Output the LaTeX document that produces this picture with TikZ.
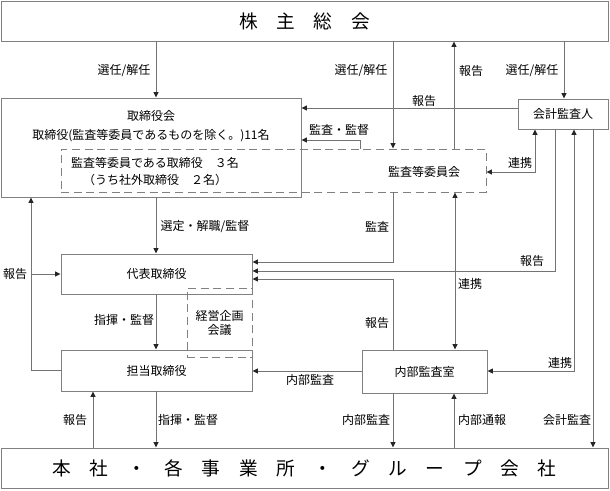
\documentclass[tikz,border=0pt]{standalone}
\usepackage{fontspec}
\setmainfont{Noto Sans CJK JP}
\usetikzlibrary{arrows.meta}
\newcommand{\bigtxt}{\fontsize{14}{16}\selectfont}
\tikzset{
  box/.style={draw=black!50, line width=0.7pt, inner sep=0pt},
  dbox/.style={box, dash pattern=on 6pt off 3.5pt},
  tip/.tip={Triangle[length=4pt,width=3.6pt,color=black!85]},
  link/.style={draw=black!55, line width=0.7pt, -tip},
  both/.style={link, tip-tip},
}
\begin{document}
\begin{tikzpicture}[x=0.75pt, y=-0.75pt, font=\fontsize{9}{11}\selectfont]
      \useasboundingbox (0,0) rectangle (610,490);
      % Draw the boxes
      \node[box, minimum width=455.25pt, minimum height=30pt] (gm) at (304.5,21) {\bigtxt 株\quad 主\quad 総\quad 会};
      \node[box, minimum width=455.25pt, minimum height=30pt] (hq) at (304.5,468) {\bigtxt 本\quad 社\quad ・\quad 各\quad 事\quad 業\quad 所\quad ・\quad グ\quad ル\quad ー\quad プ\quad 会\quad 社};
      \node[box, minimum width=225pt, minimum height=74.25pt] (board) at (151,147.5) {};
      \node[dbox, minimum width=318.75pt, minimum height=32.25pt] (ac) at (273.5,170.5) {};
      \node[box, minimum width=67.5pt, minimum height=22.5pt] (auditor) at (563,114) {会計監査人};
      \node[box, minimum width=143.25pt, minimum height=30pt] (rep) at (156.5,274) {代表取締役};
      \node[box, minimum width=143.25pt, minimum height=30.75pt] (exec) at (156.5,370.5) {担当取締役};
      \node[dbox, minimum width=48.75pt, minimum height=51.75pt] (mtg) at (219.5,322.5) {};
      \node[box, minimum width=93.75pt, minimum height=32.25pt] (ia) at (424.5,371.5) {内部監査室};
      % Draw the box texts
      \node[align=center, font=\fontsize{9}{14.25}\selectfont] (boardtxt) at (151,126.5) {取締役会\\取締役(監査等委員であるものを除く。)11名};
      \node[align=center, font=\fontsize{9}{12.75}\selectfont] (actxt) at (155,171.5) {監査等委員である取締役　３名\\（うち社外取締役　２名）};
      \node (acname) at (424,172) {監査等委員会};
      \node[align=center, font=\fontsize{9}{10.5}\selectfont] (mtgtxt) at (219.5,323) {経営企画\\会議};
      % Draw the connectors
      \draw[link] (156,0 |- gm.south) -- (156,0 |- board.north);
      \draw[link] (393,0 |- gm.south) -- (393,0 |- ac.north);
      \draw[link] (454,0 |- ac.north) -- (454,0 |- gm.south);
      \draw[link] (564,0 |- gm.south) -- (564,0 |- auditor.north);
      \draw[link] (auditor.west |- 0,108) -- (board.east |- 0,108);
      \draw[link] (360,0 |- ac.north) |- (board.east |- 0,140);
      \draw[both] (535,0 |- auditor.south) |- (ac.east |- 0,172);
      \draw[link] (156,0 |- board.south) -- (156,0 |- rep.north);
      \draw[link] (393,0 |- ac.south) |- (rep.east |- 0,262);
      \draw[link] (555,0 |- auditor.south) |- (rep.east |- 0,271);
      \draw[link] (393,0 |- ia.north) |- (rep.east |- 0,279);
      \draw[both] (455,0 |- ac.south) -- (455,0 |- ia.north);
      \draw[both] (574,0 |- auditor.south) |- (ia.east |- 0,371);
      \draw[link] (593,0 |- auditor.south) -- (593,0 |- hq.north);
      \draw[link] (exec.west |- 0,370) -| (31,0 |- board.south);
      \draw[link] (31,274) -- (rep.west |- 0,274);
      \draw[link] (156,0 |- rep.south) -- (156,0 |- exec.north);
      \draw[link] (ia.west |- 0,371) -- (exec.east |- 0,371);
      \draw[link] (156,0 |- exec.south) -- (156,0 |- hq.north);
      \draw[link] (93,0 |- hq.north) -- (93,0 |- exec.south);
      \draw[link] (393,0 |- ia.south) -- (393,0 |- hq.north);
      \draw[link] (454,0 |- hq.north) -- (454,0 |- ia.south);
      % Draw the connector labels
      \node (l1) at (124,71) {選任/解任};
      \node (l2) at (361,71) {選任/解任};
      \node (l3) at (471,71) {報告};
      \node (l4) at (532,71) {選任/解任};
      \node (l5) at (424,101) {報告};
      \node (l6) at (339,130) {監査・監督};
      \node (l7) at (520,163) {連携};
      \node (l8) at (205,227) {選定・解職/監督};
      \node (l9) at (377,227) {監査};
      \node (l10) at (532,261) {報告};
      \node (l11) at (470,284) {連携};
      \node (l12) at (377,323) {報告};
      \node (l13) at (560,363) {連携};
      \node (l14) at (15,274) {報告};
      \node (l15) at (124,320) {指揮・監督};
      \node (l16) at (310,380) {内部監査};
      \node (l17) at (75,420) {報告};
      \node (l18) at (188,420) {指揮・監督};
      \node (l19) at (366,420) {内部監査};
      \node (l20) at (482,420) {内部通報};
      \node (l21) at (567,420) {会計監査};
    \end{tikzpicture}
\end{document}
